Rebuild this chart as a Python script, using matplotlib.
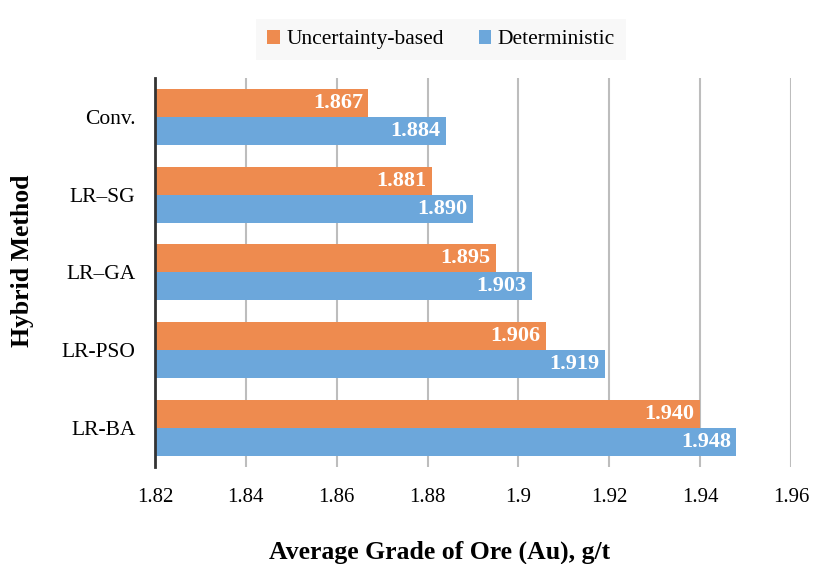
import matplotlib.pyplot as plt
import numpy as np

methods = ["Conv.", "LR\u2013SG", "LR\u2013GA", "LR-PSO", "LR-BA"]
uncertainty = [1.867, 1.881, 1.895, 1.906, 1.940]
deterministic = [1.884, 1.890, 1.903, 1.919, 1.948]
xticks = [1.82, 1.84, 1.86, 1.88, 1.90, 1.92, 1.94, 1.96]
xtick_labels = ["1.82", "1.84", "1.86", "1.88", "1.9", "1.92", "1.94", "1.96"]

plt.rcParams["font.family"] = ["Liberation Serif", "DejaVu Serif"]

orange = "#EE8B4F"
blue = "#6CA7DB"

fig = plt.figure(figsize=(8.14, 5.64), dpi=100)
ax = fig.add_axes([0.1904, 0.172, 0.7813, 0.690])

y = np.arange(len(methods))
h = 0.36
base = 1.82
b1 = ax.barh(y - h / 2, np.array(uncertainty) - base, height=h, left=base,
             color=orange, label="Uncertainty-based", zorder=3)
b2 = ax.barh(y + h / 2, np.array(deterministic) - base, height=h, left=base,
             color=blue, label="Deterministic", zorder=3)

for bars, vals in [(b1, uncertainty), (b2, deterministic)]:
    for bar, v in zip(bars, vals):
        ax.text(v - 0.0012, bar.get_y() + bar.get_height() / 2, "%.3f" % v,
                ha="right", va="center", color="white", fontsize=16,
                fontweight="bold", zorder=4)

ax.set_ylim(len(methods) - 0.5, -0.5)
ax.set_xlim(1.82, 1.96)
ax.set_xticks(xticks)
ax.set_xticklabels(xtick_labels, fontsize=15)
ax.set_yticks(y)
ax.set_yticklabels(methods, fontsize=15.5)
ax.tick_params(axis="x", length=0, pad=15)
ax.tick_params(axis="y", length=0, pad=14)

ax.grid(axis="x", color="#BDBDBD", linewidth=1.5, zorder=0)
for s in ["top", "right", "bottom"]:
    ax.spines[s].set_visible(False)
ax.spines["left"].set_color("#333333")
ax.spines["left"].set_linewidth(2)
ax.spines["left"].set_zorder(5)

ax.set_xlabel("Average Grade of Ore (Au), g/t", fontsize=18.5, fontweight="bold")
ax.xaxis.set_label_coords(0.448, -0.188)
ax.set_ylabel("Hybrid Method", fontsize=18.5, fontweight="bold")
ax.yaxis.set_label_coords(-0.19, 0.53)

fig.legend(loc="upper center", bbox_to_anchor=(0.542, 0.985), ncol=2, frameon=True,
           facecolor="#F7F7F7", edgecolor="none", fancybox=False, borderpad=0.5,
           fontsize=15.5, handlelength=0.6, handleheight=0.6, handletextpad=0.3,
           columnspacing=1.6)

fig.savefig("out.png", dpi=100)
